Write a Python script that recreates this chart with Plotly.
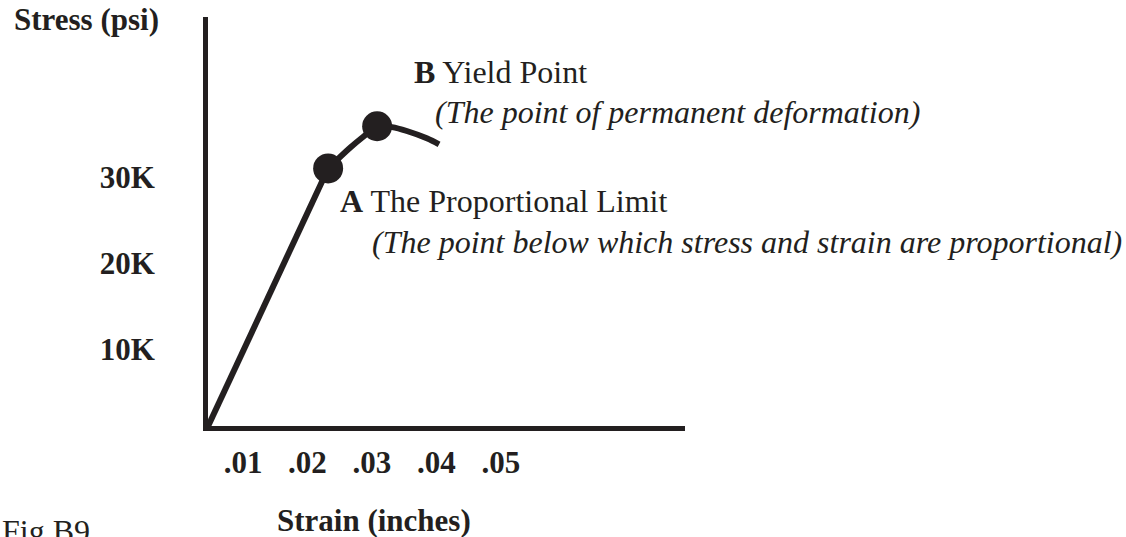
import plotly.graph_objects as go

# ---- data ----
strain_elastic = [0.0046, 0.0232]
stress_elastic = [1050, 31000]

strain_plastic = [0.0232, 0.0266, 0.0286, 0.0308, 0.0331, 0.0354, 0.0385, 0.0404]
stress_plastic = [31000, 33400, 34650, 35900, 35800, 35350, 34500, 33800]

point_names = ["A", "B"]
point_strain = [0.0232, 0.0308]
point_stress = [31000, 35900]

x_tickvals = [0.01, 0.02, 0.03, 0.04, 0.05]
x_ticktext = [".01", ".02", ".03", ".04", ".05"]
y_tickvals = [10000, 20000, 30000]
y_ticktext = ["10K", "20K", "30K"]

INK = "#231f20"
FONT = "Liberation Serif"

W, H = 1126, 537
ML, MR, MT, MB = 208, 441, 17, 111
PW, PH = W - ML - MR, H - MT - MB


def px(x):
    return (x - ML) / PW


def py(y):
    return 1 - (y - MT) / PH


fig = go.Figure()
fig.add_trace(go.Scatter(x=strain_elastic, y=stress_elastic, mode="lines",
                         line=dict(color=INK, width=6), hoverinfo="skip"))
fig.add_trace(go.Scatter(x=strain_plastic, y=stress_plastic, mode="lines",
                         line=dict(color=INK, width=6, shape="spline", smoothing=1.0),
                         hoverinfo="skip"))
fig.add_trace(go.Scatter(x=point_strain, y=point_stress, mode="markers",
                         marker=dict(color=INK, size=30), text=point_names,
                         cliponaxis=False, hoverinfo="text"))

annos = [
    dict(text="<b>Stress (psi)</b>", x=px(12), y=py(20), xanchor="left", yanchor="middle", size=31),
    dict(text="<b>Strain (inches)</b>", x=px(374), y=py(520), xanchor="center", yanchor="middle", size=31),
    dict(text="Fig B9", x=px(0), y=py(511), xanchor="left", yanchor="top", size=32),
    dict(text="<b>B</b> Yield Point", x=px(412), y=py(72), xanchor="left", yanchor="middle", size=32),
    dict(text="<i>(The point of permanent deformation)</i>", x=px(433), y=py(112),
         xanchor="left", yanchor="middle", size=32),
    dict(text="<b>A</b> The Proportional Limit", x=px(338), y=py(201), xanchor="left",
         yanchor="middle", size=32),
    dict(text="<i>(The point below which stress and strain are proportional)</i>", x=px(370),
         y=py(242), xanchor="left", yanchor="middle", size=32),
]
for a in annos:
    size = a.pop("size")
    a.update(xref="paper", yref="paper", showarrow=False,
             font=dict(family=FONT, size=size, color=INK))
    fig.add_annotation(**a)

fig.update_layout(
    width=W, height=H, autosize=False,
    margin=dict(l=ML, r=MR, t=MT, b=MB, pad=0),
    paper_bgcolor="white", plot_bgcolor="white",
    showlegend=False,
    xaxis=dict(range=[0.004574, 0.07853], showline=True, linewidth=5, linecolor=INK,
               showgrid=False, zeroline=False, ticks="", tickvals=x_tickvals,
               ticktext=x_ticktext, ticklabelstandoff=5,
               tickfont=dict(family=FONT, size=31, color=INK, weight="bold")),
    yaxis=dict(range=[1047, 48605], showline=True, linewidth=5, linecolor=INK,
               showgrid=False, zeroline=False, ticks="", tickvals=y_tickvals,
               ticktext=y_ticktext, ticklabelstandoff=42,
               tickfont=dict(family=FONT, size=31, color=INK, weight="bold")),
)

fig.write_html(
    "out.html",
    config={"displayModeBar": False},
    post_script="document.body.style.margin='0';document.body.style.overflow='hidden';",
)
